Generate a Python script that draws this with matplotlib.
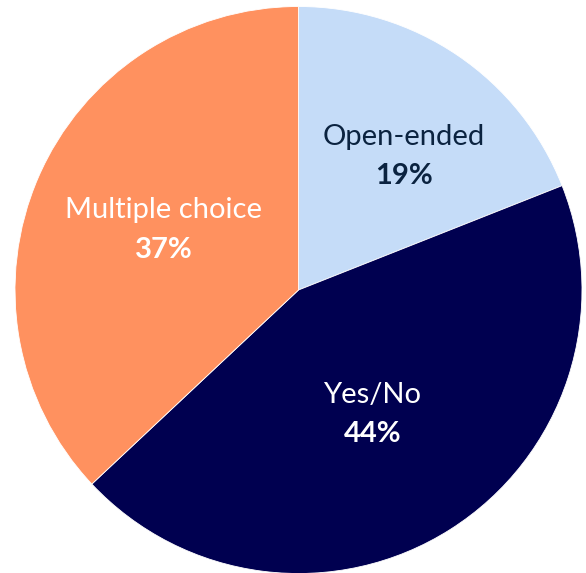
import matplotlib.pyplot as plt
import numpy as np

categories = ["Open-ended", "Yes/No", "Multiple choice"]
shares = [19, 44, 37]

colors = ["#C5DCF8", "#000050", "#FF915F"]
text_colors = ["#0B2340", "white", "white"]
label_radius = [0.60, 0.51, 0.52]
label_shift = [-4.0, -1.7, -0.6]   # degrees off the mid angle

plt.rcParams['font.family'] = ['Lato', 'DejaVu Sans']

fig = plt.figure(figsize=(5.86, 5.73), dpi=100)
ax = fig.add_axes([0, 0, 1, 1])

wedges, _ = ax.pie(shares, colors=colors, startangle=90, counterclock=False,
                   radius=1, center=(0, 0),
                   wedgeprops=dict(linewidth=0.6, edgecolor="white"))

# place name + bold percentage along each wedge's mid angle
for w, name, val, tc, r, d in zip(wedges, categories, shares, text_colors,
                                  label_radius, label_shift):
    mid = np.deg2rad((w.theta1 + w.theta2) / 2 + d)
    x, y = r * np.cos(mid), r * np.sin(mid)
    ax.text(x, y + 0.069, name, ha="center", va="center", fontsize=21, color=tc)
    ax.text(x, y - 0.069, f"{val}%", ha="center", va="center", fontsize=21,
            fontweight="bold", color=tc)

# pie centred at pixel (298.5, 290) with radius 283.5 px
s = 283.5
ax.set_xlim(-298.5 / s, (586 - 298.5) / s)
ax.set_ylim(-(573 - 290) / s, 290 / s)
ax.set_aspect("auto")
ax.axis("off")

fig.savefig("out.png", dpi=100)
